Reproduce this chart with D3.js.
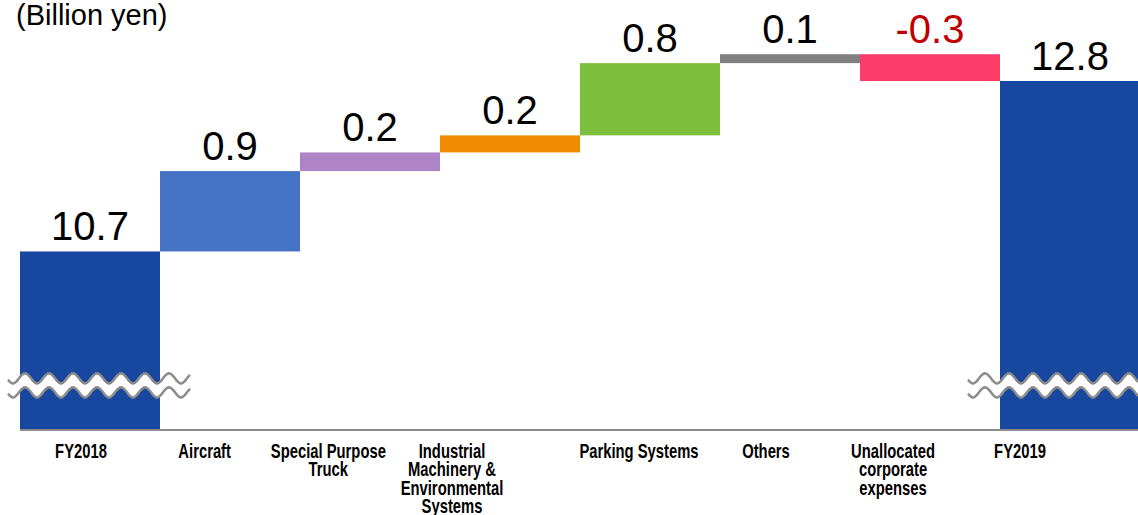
<!DOCTYPE html>
<html>
<head>
<meta charset="utf-8">
<script src="https://cdn.jsdelivr.net/npm/d3@7"></script>
<style>
  html, body { margin: 0; padding: 0; background: #fff; }
  svg { display: block; }
  .value { font-family: Arial, "Liberation Sans", sans-serif; font-size: 40px; }
  .cat { font-family: Arial, "Liberation Sans", sans-serif; font-weight: bold; font-size: 20px; }
  .unit { font-family: Arial, "Liberation Sans", sans-serif; font-size: 29px; }
</style>
</head>
<body>
<div id="chart"></div>
<script>
// categories, one label row per line
var categories = ["FY2018", "Aircraft", "Special Purpose Truck", "Industrial Machinery",
                  "Parking Systems", "Others", "Unallocated", "FY2019"];
var category_lines = [
  ["FY2018"],
  ["Aircraft"],
  ["Special Purpose", "Truck"],
  ["Industrial", "Machinery &", "Environmental", "Systems"],
  ["Parking Systems"],
  ["Others"],
  ["Unallocated", "corporate", "expenses"],
  ["FY2019"]
];
// start / end totals and the steps between them (billion yen)
var start_total = 10.7;
var end_total   = 12.8;
var steps       = [0.99, 0.23, 0.21, 0.89, 0.11, -0.33];
var value_labels = ["10.7", "0.9", "0.2", "0.2", "0.8", "0.1", "-0.3", "12.8"];
var bar_colors   = ["#17479e", "#4472c4", "#ae84c6", "#f08c00", "#7dbe3c", "#808080", "#fa3c69", "#17479e"];
var axis_floor   = 8.5;   // value at the broken baseline
var break_value  = 9.05;  // where the wavy break marks sit

var width_chart  = 1138;
var height_chart = 515;
var baseline_y   = 430;

var svg = d3.select("#chart").append("svg")
  .attr("width", width_chart)
  .attr("height", height_chart);

var x = d3.scaleBand()
  .domain(categories)
  .range([20, 1140])
  .padding(0);

var y = d3.scaleLinear()
  .domain([axis_floor, end_total])
  .range([baseline_y, 81]);

// build the waterfall rows
var rows = [];
var running = start_total;
rows.push({ name: categories[0], lo: axis_floor, hi: start_total });
steps.forEach(function (s, i) {
  var from = running;
  running = running + s;
  rows.push({ name: categories[i + 1], lo: Math.min(from, running), hi: Math.max(from, running) });
});
rows.push({ name: categories[7], lo: axis_floor, hi: end_total });

svg.append("g")
  .selectAll("rect")
  .data(rows)
  .enter().append("rect")
  .attr("x", function (d) { return x(d.name); })
  .attr("width", x.bandwidth())
  .attr("y", function (d) { return y(d.hi); })
  .attr("height", function (d) { return y(d.lo) - y(d.hi); })
  .style("fill", function (d, i) { return bar_colors[i]; });

// value labels
svg.append("g")
  .selectAll("text")
  .data(rows)
  .enter().append("text")
  .attr("class", "value")
  .attr("x", function (d) { return x(d.name) + x.bandwidth() / 2; })
  .attr("y", function (d) { return y(d.hi) - 11; })
  .attr("text-anchor", "middle")
  .style("fill", function (d, i) { return value_labels[i].charAt(0) === "-" ? "#c00000" : "#000"; })
  .text(function (d, i) { return value_labels[i]; });

// baseline
svg.append("line")
  .attr("x1", 20).attr("x2", width_chart)
  .attr("y1", baseline_y).attr("y2", baseline_y)
  .style("stroke", "#8c8c8c")
  .style("stroke-width", 2);

// wavy break marks on both total bars
function wave(x0, x1, yc) {
  return d3.range(x0, x1 + 0.5, 1).map(function (xx) {
    return [xx, yc - 5 * Math.cos(2 * Math.PI * (xx - x0 - 17) / 24)];
  });
}
[[categories[0], -12, 30], [categories[7], -32, 0]].forEach(function (b) {
  var c = b[0];
  var x0 = x(c) + b[1];
  var x1 = Math.min(x(c) + x.bandwidth() + b[2], width_chart);
  var yc = y(break_value);
  var top = wave(x0, x1, yc - 7);
  var bot = wave(x0, x1, yc + 7);
  var band = top.concat(bot.slice().reverse());
  svg.append("path")
    .attr("d", d3.line()(band) + "Z")
    .style("fill", "#fff");
  [top, bot].forEach(function (p) {
    svg.append("path")
      .attr("d", d3.line()(p))
      .style("fill", "none")
      .style("stroke", "#8c8c8c")
      .style("stroke-width", 2.5);
  });
});

// category labels: the source places them on two slightly narrower grids
var label_left  = d3.scalePoint().domain(categories.slice(0, 4)).range([81, 452]);
var label_right = d3.scalePoint().domain(categories.slice(4)).range([639, 1020]);
var cat_g = svg.append("g");
categories.forEach(function (c, i) {
  var cx = i < 4 ? label_left(c) : label_right(c);
  // condensed look: squeeze the bold face horizontally
  var t = cat_g.append("text")
    .attr("class", "cat")
    .attr("text-anchor", "middle")
    .attr("transform", "translate(" + cx + ",458) scale(0.74,1)");
  category_lines[i].forEach(function (line, j) {
    t.append("tspan")
      .attr("x", 0)
      .attr("dy", j === 0 ? 0 : 18.5)
      .text(line);
  });
});

// unit
svg.append("text")
  .attr("class", "unit")
  .attr("x", 16)
  .attr("y", 25)
  .text("(Billion yen)");
</script>
</body>
</html>
